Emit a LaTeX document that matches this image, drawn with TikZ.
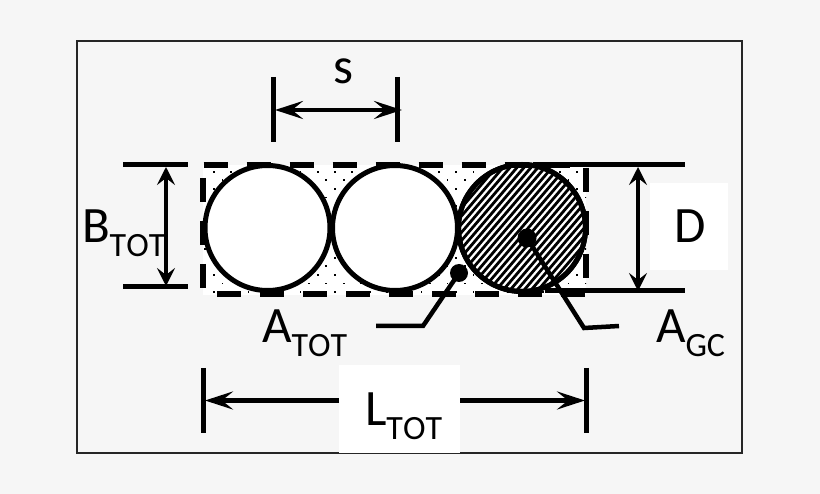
\documentclass[tikz,border=0pt]{standalone}
\usepackage{fontspec}
\setmainfont[Kerning=Off]{Carlito}
\usetikzlibrary{arrows.meta}
\definecolor{pagebg}{HTML}{F6F6F6}
\newcommand{\lab}[2]{\fontsize{51}{51}\selectfont #1\raisebox{-14pt}{\fontsize{34}{34}\selectfont #2}}
\tikzset{
  x=1pt,y=-1pt,
  circ/.style={circle,draw=black,line width=5pt,fill=white,inner sep=0pt,outer sep=0pt,minimum size=125pt},
  txt/.style={anchor=base west,inner sep=0pt,outer sep=0pt},
  whitebox/.style={fill=white,inner sep=0pt,outer sep=0pt},
  thick line/.style={line width=5pt,draw=black},
  dimline/.style={line width=4.2pt,draw=black,{Stealth[length=18pt,width=18pt,inset=7pt]}-{Stealth[length=18pt,width=18pt,inset=7pt]}},
  dimlineh/.style={line width=4.2pt,draw=black,{Stealth[length=28pt,width=18pt,inset=11pt]}-{Stealth[length=28pt,width=18pt,inset=11pt]}},
  dimend/.style={line width=4.2pt,draw=black,-{Stealth[length=28pt,width=18pt,inset=11pt]}},
  dashbox/.style={line width=5.5pt,draw=black,dash pattern=on 24pt off 19pt},
  leader/.style={line width=4.5pt,draw=black},
  blob/.style={circle,fill=black,inner sep=0pt,outer sep=0pt}
}
\begin{document}
\begin{tikzpicture}
\useasboundingbox (0,0) rectangle (820,494);
\fill[pagebg] (0,0) rectangle (820,494);
\draw[line width=1.5pt,black!85] (77,41) rectangle (742,453);
% white boxes
\node[whitebox,minimum width=121pt,minimum height=88pt] (lbox) at (399.5,409) {};
\node[whitebox,minimum width=78pt,minimum height=87pt] (dbox) at (689,226.5) {};
% dotted field
\fill[white] (203,165) rectangle (586,295);
\begin{scope}
\clip (203,165) rectangle (586,295);
\foreach \k in {-1,...,15}{
  \foreach \j in {-8,...,15}{
    \pgfmathsetmacro{\xx}{335+17.3*\j-mod(\k+2,2)*8.7}
    \pgfmathsetmacro{\yy}{171.7+8.6*\k}
    \fill[black] (\xx-0.9,\yy-0.9) rectangle (\xx+0.9,\yy+0.9);
  }
}
\end{scope}
% circles
\node[circ] (c1) at (267.5,228) {};
\node[circ] (c2) at (395,228) {};
\node[circ,minimum size=127pt] (c3) at (522,228) {};
\begin{scope}
\clip (522,228) circle (63.5);
\foreach \i in {0,...,50}{
  \draw[line width=2.8pt,black] (360+7*\i,310) -- ++(137,-160);
}
\end{scope}
\draw[line width=5pt,black] (c3.center) circle (63.5);
% dashed outline
\draw[dashbox] (203.5,165) -- (570,165);
\draw[dashbox] (217,294) -- (585,294);
\draw[dashbox] (203,178) -- (203,290);
\draw[dashbox] (586,168) -- (586,280);
% B dimension
\coordinate (bt1) at (123,165); \coordinate (bt2) at (188,165);
\coordinate (bb1) at (123,287); \coordinate (bb2) at (188,287);
\draw[thick line] (bt1) -- (bt2);
\draw[thick line] (bb1) -- (bb2);
\coordinate (ba) at (166,167); \coordinate (bz) at (166,286);
\draw[dimline] (ba) -- (bz);
% D dimension
\coordinate (dt1) at (533,165); \coordinate (dt2) at (685,165);
\coordinate (db1) at (545,291); \coordinate (db2) at (685,291);
\draw[thick line] (dt1) -- (dt2);
\draw[thick line] (db1) -- (db2);
\coordinate (da) at (638,167); \coordinate (dz) at (638,291);
\draw[dimline] (da) -- (dz);
% s dimension
\coordinate (s1a) at (273,77); \coordinate (s1b) at (273,142);
\coordinate (s2a) at (397,77); \coordinate (s2b) at (397,142);
\draw[thick line] (s1a) -- (s1b);
\draw[thick line] (s2a) -- (s2b);
\coordinate (sl) at (275,110); \coordinate (sr) at (402,110);
\draw[dimlineh] (sl) -- (sr);
% L dimension
\coordinate (l1a) at (203.5,368); \coordinate (l1b) at (203.5,433);
\coordinate (l2a) at (586,368); \coordinate (l2b) at (586,433);
\draw[thick line] (l1a) -- (l1b);
\draw[thick line] (l2a) -- (l2b);
\coordinate (ll) at (205,400.5); \coordinate (lr) at (585,400.5);
\draw[dimend] (lbox.west |- ll) -- (ll);
\draw[dimend] (lbox.east |- lr) -- (lr);
% leaders
\node[blob,minimum size=18pt] (dot1) at (459,273) {};
\coordinate (k1) at (423,326); \coordinate (e1) at (376,326);
\draw[leader,line join=miter] (dot1.center) -- (k1) -- (e1);
\node[blob,minimum size=19pt] (dot2) at (527,238) {};
\coordinate (k2) at (584,328); \coordinate (e2) at (619,326);
\draw[leader,line join=miter] (dot2.center) -- (k2) -- (e2);
% labels
\node[txt] (tb) at (82,243) {\lab{B}{TOT}};
\node[txt] (ta) at (262,343) {\lab{A}{TOT}};
\node[txt] (tl) at (365,426) {\lab{L}{TOT}};
\node[txt] (tg) at (656,343) {\lab{A}{GC}};
\node[txt] (td) at (674,243) {\fontsize{51}{51}\selectfont D};
\node[txt] (ts) at (333,84) {\fontsize{51}{51}\selectfont s};
\end{tikzpicture}
\end{document}
